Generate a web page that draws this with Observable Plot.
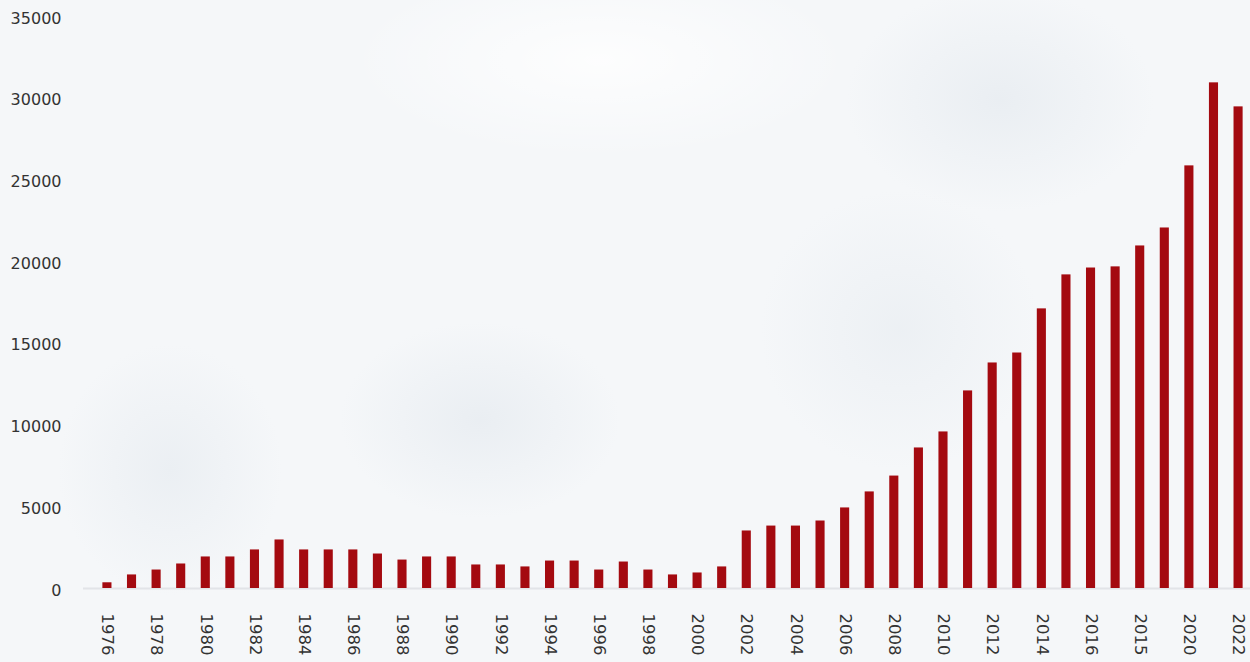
<!DOCTYPE html>
<html>
<head>
<meta charset="utf-8">
<script src="https://cdn.jsdelivr.net/npm/d3@7"></script>
<script src="https://cdn.jsdelivr.net/npm/@observablehq/plot@0.6"></script>
<style>
  html, body { margin: 0; padding: 0; }
  body {
    width: 1250px; height: 662px; overflow: hidden;
    background:
      radial-gradient(ellipse 200px 140px at 480px 420px, rgba(220,227,234,0.45), rgba(220,227,234,0) 70%),
      radial-gradient(ellipse 160px 180px at 170px 470px, rgba(220,227,234,0.4), rgba(220,227,234,0) 70%),
      radial-gradient(ellipse 220px 160px at 1000px 100px, rgba(220,227,234,0.45), rgba(220,227,234,0) 70%),
      radial-gradient(ellipse 200px 200px at 900px 330px, rgba(220,227,234,0.35), rgba(220,227,234,0) 70%),
      radial-gradient(ellipse 360px 140px at 600px 60px, rgba(255,255,255,0.8), rgba(255,255,255,0) 70%),
      #f5f7f9;
  }
  #chart svg { display: block; background: transparent; }
</style>
</head>
<body>
<div id="chart"></div>
<script>
const years = [1976,1977,1978,1979,1980,1981,1982,1983,1984,1985,1986,1987,1988,1989,1990,1991,1992,1993,1994,1995,1996,1997,1998,1999,2000,2001,2002,2003,2004,2005,2006,2007,2008,2009,2010,2011,2012,2013,2014,2015,2016,2017,2018,2019,2020,2021,2022];
const values = [350,830,1130,1500,1930,1930,2360,2970,2360,2360,2360,2110,1740,1930,1930,1440,1440,1320,1680,1680,1130,1620,1130,830,950,1320,3520,3820,3820,4130,4930,5910,6880,8600,9580,12090,13800,14410,17110,19190,19610,19680,20960,22060,25860,30940,29470];
const tickYears = [1976,1978,1980,1982,1984,1986,1988,1990,1992,1994,1996,1998,2000,2002,2004,2006,2008,2010,2012,2014,2016,2018,2020,2022];
const tickLabels = ["1976","1978","1980","1982","1984","1986","1988","1990","1992","1994","1996","1998","2000","2002","2004","2006","2008","2010","2012","2014","2016","2015","2020","2022"];
const yTicks = [0,5000,10000,15000,20000,25000,30000,35000];

const data = years.map((y, i) => ({year: y, value: values[i]}));

const chart = Plot.plot({
  width: 1250,
  height: 662,
  marginTop: 16,
  marginBottom: 74,
  marginLeft: 95,
  marginRight: 0,
  style: {fontFamily: "'DejaVu Sans', Verdana, sans-serif", fontSize: "16px", color: "#333", background: "transparent"},
  x: {domain: years, paddingInner: 0.63, paddingOuter: 0.3, round: false, label: null},
  y: {domain: [0, 35000], label: null},
  marks: [
    Plot.ruleY([0], {stroke: "#e2e4e8", strokeWidth: 2, insetLeft: -12}),
    Plot.barY(data, {x: "year", y: "value", fill: "#a40a10"}),
    Plot.axisY({ticks: yTicks, tickSize: 0, tickPadding: 34, dy: 2, tickFormat: d => String(d), fill: "#333", fontSize: 16}),
    Plot.axisX({ticks: tickYears, tickFormat: d => tickLabels[tickYears.indexOf(d)], tickRotate: 90, tickSize: 0, tickPadding: 25, fill: "#333", fontSize: 16.5})
  ]
});
document.getElementById("chart").appendChild(chart);
</script>
</body>
</html>
